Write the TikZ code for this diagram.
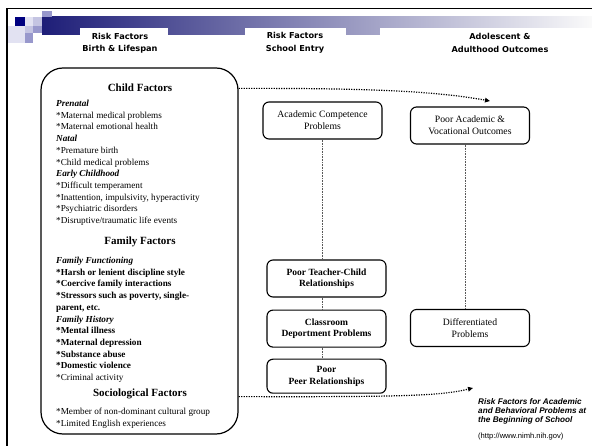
\documentclass[tikz,border=0pt]{standalone}
\usepackage{fontspec}
\setmainfont{Liberation Serif}
\newfontfamily\hdrfont{DejaVu Sans}
\newfontfamily\capfont{Liberation Sans}
\usetikzlibrary{arrows.meta,positioning}
\definecolor{bardark}{RGB}{30,30,120}
\definecolor{barmid}{RGB}{170,170,202}
\definecolor{sqnavy}{RGB}{0,0,128}
\definecolor{sqlight}{RGB}{226,226,242}
\definecolor{sqmid}{RGB}{196,196,226}
\definecolor{sqdeep}{RGB}{152,152,204}
\tikzset{
  stagebox/.style={draw,rounded corners=6pt,line width=1.1pt,minimum width=119pt,
    minimum height=37pt,align=center,inner sep=2pt,font=\fontsize{9.7}{11.8}\selectfont},
  boldstage/.style={stagebox,font=\bfseries\fontsize{9.5}{11.5}\selectfont},
  header/.style={align=center,font=\hdrfont\bfseries\fontsize{8.2}{12.5}\selectfont},
  grouptitle/.style={font=\bfseries\fontsize{11}{13}\selectfont},
  itemlist/.style={anchor=north west,align=left,inner sep=0pt,font=\fontsize{9.2}{11.7}\selectfont},
  flowarrow/.style={line width=1.2pt,dash pattern=on 1.2pt off 1.3pt,
    -{Triangle[length=5pt,width=4.5pt]}},
  linkline/.style={line width=0.6pt,densely dotted,gray!70!black}
}
\begin{document}
\begin{tikzpicture}[x=1pt,y=-1pt]
\useasboundingbox (0,0) rectangle (592,446);
% banner
\shade[left color=bardark,middle color=barmid,right color=white!96!gray] (42,17) rectangle (592,35);
\fill[white] (80,28) rectangle (168,58);
\fill[white] (245,28) rectangle (346,58);
\fill[white] (380,28) rectangle (592,58);
\fill[sqdeep] (42,11) rectangle (52,17);
\fill[sqnavy] (15,17) rectangle (25,26);
\fill[sqlight] (25,17) rectangle (33,26);
\fill[sqmid] (33,17) rectangle (42,26);
\fill[sqlight] (7,26) rectangle (25,43);
\fill[sqmid] (25,26) rectangle (33,33);
\fill[sqdeep] (33,26) rectangle (42,33);
\fill[sqdeep] (25,33) rectangle (33,43);
\draw[line width=1.5pt] (7,446) -- (7,8.5) -- (592,8.5);
\node[header] (h1) at (120,43) {Risk Factors\\Birth \& Lifespan};
\node[header] (h2) at (295,43) {Risk Factors\\School Entry};
\node[header] (h3) at (500,43) {Adolescent \&\\Adulthood Outcomes};
% risk factor groups
\node[draw,line width=1.2pt,rounded corners=22pt,minimum width=197pt,minimum height=366pt] (cf) at (139.5,251) {};
\node[grouptitle] (childt) at (140,88) {Child Factors};
\node[itemlist] (childl) at (56,100) {\textbf{\textit{Prenatal}}\\{}*Maternal medical problems\\{}*Maternal emotional health\\
  \textbf{\textit{Natal}}\\{}*Premature birth\\{}*Child medical problems\\\textbf{\textit{Early Childhood}}\\
  {}*Difficult temperament\\{}*Inattention, impulsivity, hyperactivity\\{}*Psychiatric disorders\\
  {}*Disruptive/traumatic life events};
\node[grouptitle] (famt) at (140,242) {Family Factors};
\node[itemlist] (faml) at (56,257) {\textbf{\textit{Family Functioning}}\\\textbf{*Harsh or lenient discipline style}\\
  \textbf{*Coercive family interactions}\\\textbf{*Stressors such as poverty, single-}\\\textbf{parent, etc.}\\
  \textbf{\textit{Family History}}\\\textbf{*Mental illness}\\\textbf{*Maternal depression}\\
  \textbf{*Substance abuse}\\\textbf{*Domestic violence}\\{}*Criminal activity};
\node[grouptitle] (sockt) at (140,394) {Sociological Factors};
\node[itemlist] (socl) at (56,408) {{}*Member of non-dominant cultural group\\{}*Limited English experiences};
% school entry
\node[stagebox] (acad) at (322.5,120.5) {Academic Competence\\Problems};
\node[boldstage] (teach) at (326.5,278.5) {Poor Teacher-Child\\Relationships};
\node[boldstage,below=12pt of teach] (room) {Classroom\\Deportment Problems};
\node[boldstage,minimum height=34pt,below=11pt of room] (peer) {Poor\\Peer Relationships};
% outcomes
\node[stagebox] (pav) at (470,125.5) {Poor Academic \&\\Vocational Outcomes};
\node[stagebox] (diff) at (470,328) {Differentiated\\Problems};
\draw[linkline] (acad.south) -- (acad.south |- teach.north);
\draw[linkline] (acad.south |- teach.south) -- (acad.south |- room.north);
\draw[linkline] (acad.south |- room.south) -- (acad.south |- peer.north);
\draw[linkline] ([xshift=-5pt]pav.south) -- ([xshift=-5pt]diff.north);
\coordinate (topend) at (490,101);
\coordinate (botend) at (473,388);
\draw[flowarrow] ([yshift=-21pt]cf.north east) .. controls (380,88) and (440,92) .. (topend);
\draw[flowarrow] ([yshift=38pt]cf.south east) .. controls (400,397) and (440,396) .. (botend);
\node[anchor=north west,align=left,inner sep=0pt,font=\capfont\bfseries\itshape\fontsize{8.2}{9}\selectfont] (cap) at (478,398.5) {Risk Factors for Academic\\and Behavioral Problems at\\the Beginning of School};
\node[inner sep=0pt,font=\capfont\fontsize{7.6}{8}\selectfont,below=8pt of cap.south west,anchor=north west] (src) {(http://www.nimh.nih.gov)};
\end{tikzpicture}
\end{document}
